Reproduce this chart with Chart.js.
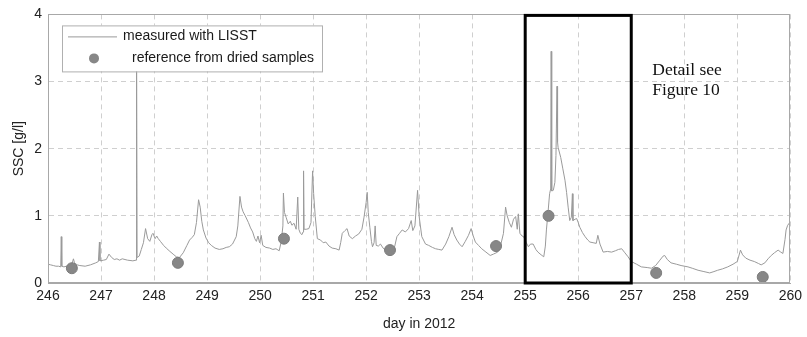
<!DOCTYPE html>
<html>
<head>
<meta charset="utf-8">
<script src="https://cdn.jsdelivr.net/npm/chart.js@4/dist/chart.umd.min.js"></script>
<style>
  html, body { margin: 0; padding: 0; background: #fff; }
  #wrap { width: 807px; height: 337px; }
</style>
</head>
<body>
<div id="wrap"><canvas id="c" width="807" height="337"></canvas></div>
<script>
// LISST time series: day of year 2012 and suspended sediment concentration [g/l]
const lisstDays = [
  246.00, 246.05, 246.10, 246.15, 246.20, 246.24, 246.25, 246.26, 246.30, 246.35,
  246.40, 246.45, 246.48, 246.50, 246.55, 246.60, 246.70, 246.80, 246.90, 246.95,
  246.97, 246.98, 247.05, 247.10, 247.15, 247.20, 247.25, 247.30, 247.35, 247.40,
  247.50, 247.60, 247.66, 247.67, 247.68, 247.72, 247.76, 247.80, 247.84, 247.88,
  247.92, 247.96, 247.98, 248.02, 248.05, 248.08, 248.12, 248.18, 248.23, 248.30,
  248.36, 248.42, 248.48, 248.55, 248.62, 248.67, 248.72, 248.76, 248.80, 248.84,
  248.87, 248.90, 248.93, 248.98, 249.03, 249.08, 249.15, 249.23, 249.30, 249.36,
  249.42, 249.48, 249.55, 249.58, 249.62, 249.65, 249.68, 249.72, 249.78, 249.82,
  249.86, 249.90, 249.93, 249.96, 249.99, 250.02, 250.05, 250.11, 250.18, 250.24,
  250.30, 250.36, 250.40, 250.43, 250.44, 250.46, 250.49, 250.53, 250.57, 250.60,
  250.64, 250.68, 250.71, 250.73, 250.76, 250.79, 250.81, 250.82, 250.83, 250.87,
  250.92, 250.96, 250.99, 251.01, 251.04, 251.08, 251.14, 251.19, 251.24, 251.30,
  251.36, 251.43, 251.49, 251.52, 251.55, 251.60, 251.64, 251.68, 251.74, 251.80,
  251.86, 251.92, 251.96, 252.00, 252.02, 252.04, 252.07, 252.10, 252.12, 252.15,
  252.17, 252.19, 252.23, 252.27, 252.32, 252.36, 252.42, 252.49, 252.54, 252.58,
  252.63, 252.68, 252.74, 252.80, 252.85, 252.88, 252.92, 252.97, 253.00, 253.05,
  253.12, 253.18, 253.25, 253.31, 253.37, 253.43, 253.50, 253.56, 253.62, 253.66,
  253.71, 253.76, 253.81, 253.87, 253.93, 253.98, 254.02, 254.06, 254.12, 254.18,
  254.26, 254.34, 254.40, 254.48, 254.53, 254.59, 254.63, 254.66, 254.70, 254.74,
  254.78, 254.82, 254.85, 254.87, 254.90, 254.94, 254.97, 255.02, 255.06, 255.10,
  255.15, 255.20, 255.24, 255.30, 255.35, 255.38, 255.40, 255.43, 255.46, 255.48,
  255.49, 255.50, 255.53, 255.56, 255.58, 255.60, 255.61, 255.62, 255.67, 255.71,
  255.75, 255.78, 255.81, 255.84, 255.87, 255.89, 255.90, 255.94, 255.97, 256.00,
  256.03, 256.08, 256.13, 256.18, 256.22, 256.28, 256.34, 256.37, 256.41, 256.47,
  256.55, 256.63, 256.70, 256.76, 256.82, 256.88, 256.94, 257.00, 257.10, 257.19,
  257.30, 257.38, 257.46, 257.54, 257.60, 257.63, 257.68, 257.75, 257.85, 257.94,
  258.07, 258.15, 258.26, 258.37, 258.48, 258.56, 258.63, 258.72, 258.82, 258.92,
  259.00, 259.06, 259.10, 259.16, 259.24, 259.32, 259.40, 259.45, 259.52, 259.58,
  259.64, 259.70, 259.77, 259.82, 259.86, 259.90, 259.92, 259.95, 259.99
];
const lisstSsc = [
  0.28, 0.27, 0.26, 0.25, 0.25, 0.24, 0.69, 0.25, 0.24, 0.25,
  0.26, 0.28, 0.36, 0.30, 0.27, 0.26, 0.25, 0.27, 0.30, 0.32,
  0.61, 0.33, 0.34, 0.35, 0.43, 0.38, 0.35, 0.36, 0.34, 0.36,
  0.34, 0.33, 0.34, 3.60, 0.38, 0.40, 0.50, 0.60, 0.81, 0.66,
  0.62, 0.72, 0.74, 0.66, 0.70, 0.66, 0.62, 0.56, 0.52, 0.47,
  0.43, 0.39, 0.38, 0.45, 0.56, 0.64, 0.68, 0.72, 0.90, 1.24,
  1.13, 0.92, 0.79, 0.67, 0.60, 0.56, 0.52, 0.50, 0.51, 0.53,
  0.54, 0.58, 0.69, 0.85, 1.29, 1.13, 1.06, 1.00, 0.90, 0.82,
  0.76, 0.66, 0.62, 0.70, 0.60, 0.71, 0.56, 0.53, 0.52, 0.50,
  0.51, 0.48, 0.62, 0.85, 1.34, 1.05, 0.98, 0.88, 0.92, 0.86,
  0.89, 0.80, 1.28, 0.80, 0.74, 0.72, 0.76, 1.67, 0.80, 0.80,
  0.81, 0.90, 1.67, 1.33, 0.99, 0.66, 0.64, 0.60, 0.61, 0.55,
  0.52, 0.51, 0.49, 0.60, 0.74, 0.78, 0.81, 0.70, 0.66, 0.70,
  0.73, 0.80, 0.98, 1.20, 1.35, 1.05, 0.83, 0.62, 0.54, 0.60,
  0.85, 0.56, 0.55, 0.58, 0.52, 0.49, 0.46, 0.44, 0.55, 0.69,
  0.74, 0.79, 0.76, 0.81, 0.93, 0.78, 0.85, 1.38, 0.99, 0.69,
  0.58, 0.56, 0.53, 0.51, 0.50, 0.49, 0.58, 0.69, 0.83, 0.72,
  0.64, 0.58, 0.54, 0.62, 0.71, 0.81, 0.70, 0.61, 0.56, 0.51,
  0.46, 0.41, 0.43, 0.46, 0.54, 0.74, 1.13, 1.00, 0.90, 0.83,
  0.95, 0.99, 0.80, 1.03, 0.74, 0.70, 0.69, 0.60, 0.54, 0.58,
  0.58, 0.50, 0.46, 0.42, 0.39, 0.55, 0.79, 1.05, 1.33, 1.40,
  3.45, 1.37, 1.38, 1.50, 1.90, 2.93, 2.10, 2.02, 1.87, 1.70,
  1.53, 1.35, 1.13, 0.93, 0.98, 1.33, 0.93, 0.95, 0.96, 0.90,
  0.83, 0.75, 0.69, 0.64, 0.61, 0.60, 0.59, 0.71, 0.58, 0.46,
  0.47, 0.46, 0.48, 0.50, 0.51, 0.45, 0.39, 0.32, 0.28, 0.24,
  0.23, 0.22, 0.26, 0.34, 0.40, 0.41, 0.35, 0.30, 0.28, 0.26,
  0.24, 0.22, 0.19, 0.17, 0.15, 0.17, 0.19, 0.21, 0.24, 0.28,
  0.32, 0.49, 0.42, 0.37, 0.34, 0.32, 0.29, 0.27, 0.30, 0.36,
  0.41, 0.45, 0.49, 0.46, 0.44, 0.65, 0.79, 0.86, 0.90
];

// Reference concentrations from dried water samples
const sampleDays = [246.45, 248.45, 250.45, 252.45, 254.45, 255.44, 257.47, 259.48];
const sampleSsc  = [0.22, 0.30, 0.66, 0.49, 0.55, 1.00, 0.15, 0.09];

// Axis ranges and labels
const dayTicks = [246, 247, 248, 249, 250, 251, 252, 253, 254, 255, 256, 257, 258, 259, 260];
const sscTicks = [0, 1, 2, 3, 4];
const detailRange = [255, 257];
const seriesNames = ['measured with LISST', 'reference from dried samples'];
const noteLines = ['Detail see', 'Figure 10'];

const lineColor = '#9a9a9a';
const dotColor = '#878787';
const sans = '"Liberation Sans", Arial, Helvetica, sans-serif';

const lisstPoints = lisstDays.map((d, i) => ({ x: d, y: lisstSsc[i] }));
const samplePoints = sampleDays.map((d, i) => ({ x: d, y: sampleSsc[i] }));

// Frame, highlighted period, note and legend drawn on top of the data
const overlay = {
  id: 'overlay',
  afterDatasetsDraw(chart) {
    const { ctx, chartArea: a, scales: { x, y } } = chart;
    ctx.save();

    // plot frame
    ctx.strokeStyle = '#a8a8a8';
    ctx.lineWidth = 1;
    ctx.setLineDash([]);
    ctx.strokeRect(Math.round(a.left) + 0.5, Math.round(a.top) + 0.5,
                   Math.round(a.right - a.left) - 1, Math.round(a.bottom - a.top) - 1);

    // highlighted period
    const x0 = x.getPixelForValue(detailRange[0]);
    const x1 = x.getPixelForValue(detailRange[1]);
    const yTop = y.getPixelForValue(sscTicks[sscTicks.length - 1]);
    const yBot = y.getPixelForValue(sscTicks[0]);
    ctx.strokeStyle = '#000';
    ctx.lineWidth = 3;
    ctx.strokeRect(x0, yTop + 1, x1 - x0, yBot - yTop - 1);

    // note
    ctx.fillStyle = '#111';
    ctx.font = '17.5px "Liberation Serif", "Times New Roman", serif';
    ctx.textBaseline = 'middle';
    ctx.textAlign = 'left';
    const nx = x1 + 21;
    ctx.fillText(noteLines[0], nx, a.top + 56);
    ctx.fillText(noteLines[1], nx, a.top + 76);

    // legend box
    const lx = a.left + 14, ly = a.top + 11, lw = 260, lh = 46;
    ctx.fillStyle = '#fff';
    ctx.fillRect(lx, ly, lw, lh);
    ctx.strokeStyle = '#b0b0b0';
    ctx.lineWidth = 1;
    ctx.strokeRect(lx + 0.5, ly + 0.5, lw, lh);

    ctx.strokeStyle = lineColor;
    ctx.beginPath();
    ctx.moveTo(lx + 6, ly + 11.5);
    ctx.lineTo(lx + 55, ly + 11.5);
    ctx.stroke();

    ctx.fillStyle = dotColor;
    ctx.beginPath();
    ctx.arc(lx + 32, ly + 33, 5, 0, Math.PI * 2);
    ctx.fill();

    ctx.fillStyle = '#1a1a1a';
    ctx.font = '14px ' + sans;
    ctx.fillText(seriesNames[0], lx + 61, ly + 11);
    ctx.fillText(seriesNames[1], lx + 70, ly + 33);

    ctx.restore();
  }
};

new Chart(document.getElementById('c'), {
  type: 'scatter',
  data: {
    datasets: [
      {
        label: seriesNames[1],
        data: samplePoints,
        order: 0,
        pointRadius: 5.5,
        pointBackgroundColor: dotColor,
        pointBorderColor: '#7c7c7c',
        pointBorderWidth: 1,
        showLine: false
      },
      {
        label: seriesNames[0],
        data: lisstPoints,
        order: 1,
        showLine: true,
        borderColor: lineColor,
        borderWidth: 1,
        pointRadius: 0,
        tension: 0
      }
    ]
  },
  options: {
    responsive: false,
    animation: false,
    devicePixelRatio: 1,
    layout: { padding: { top: 13, right: 14, left: 0, bottom: 0 } },
    plugins: {
      legend: { display: false },
      tooltip: { enabled: false }
    },
    scales: {
      x: {
        type: 'linear',
        min: dayTicks[0],
        max: dayTicks[dayTicks.length - 1],
        afterBuildTicks: (s) => { s.ticks = dayTicks.map(v => ({ value: v })); },
        afterFit: (s) => { s.height = 54; },
        grid: { color: '#cfcfcf', drawTicks: false, lineWidth: 1 },
        border: { display: true, color: '#a8a8a8', dash: [5, 4] },
        ticks: { color: '#222', font: { size: 14, family: sans }, padding: 5, maxRotation: 0 },
        title: {
          display: true, text: 'day in 2012', color: '#222',
          font: { size: 14, family: sans }, padding: { top: 0, bottom: 4 }
        }
      },
      y: {
        type: 'linear',
        min: sscTicks[0],
        max: sscTicks[sscTicks.length - 1],
        afterBuildTicks: (s) => { s.ticks = sscTicks.map(v => ({ value: v })); },
        afterFit: (s) => { s.width = 48; },
        grid: { color: '#cfcfcf', drawTicks: false, lineWidth: 1 },
        border: { display: true, color: '#a8a8a8', dash: [5, 4] },
        ticks: { color: '#222', font: { size: 14, family: sans }, padding: 6 },
        title: {
          display: true, text: 'SSC [g/l]', color: '#222',
          font: { size: 14, family: sans }, padding: { top: 11, bottom: 0 }
        }
      }
    }
  },
  plugins: [overlay]
});
</script>
</body>
</html>
